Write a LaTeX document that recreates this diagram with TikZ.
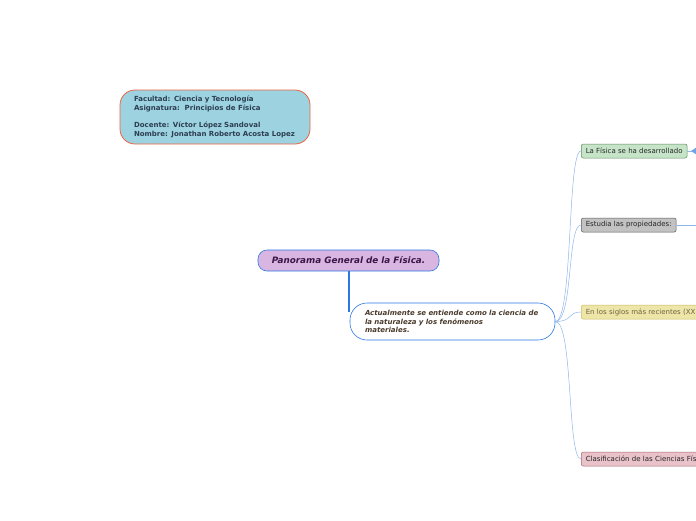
\documentclass[tikz,border=0pt]{standalone}
\usepackage{fontspec}
\setmainfont{DejaVu Sans}
\begin{document}
\begin{tikzpicture}[x=1pt, y=-1pt]
    \definecolor{infoFill}{HTML}{9DD3E1}
    \definecolor{infoBorder}{HTML}{EC6440}
    \definecolor{infoText}{HTML}{2C3E50}
    \definecolor{titleFill}{HTML}{D9B5E1}
    \definecolor{mainBlue}{HTML}{2B78E4}
    \definecolor{titleText}{HTML}{3A1648}
    \definecolor{subText}{HTML}{4A3B2C}
    \definecolor{branchLine}{HTML}{8FB6EA}
    \definecolor{greenFill}{HTML}{C6E5C8}
    \definecolor{greenBorder}{HTML}{5E8A60}
    \definecolor{grayFill}{HTML}{C2C2C2}
    \definecolor{grayBorder}{HTML}{5A5A5A}
    \definecolor{yellowFill}{HTML}{EEE6A8}
    \definecolor{yellowBorder}{HTML}{C9BA62}
    \definecolor{yellowText}{HTML}{6E6240}
    \definecolor{pinkFill}{HTML}{E9C2CA}
    \definecolor{pinkBorder}{HTML}{A8646F}

    \tikzset{
        branch/.style={draw, rounded corners=2pt, line width=0.5pt, anchor=west,
            minimum height=14pt, inner xsep=4.5pt, inner ysep=0pt,
            font=\fontsize{7}{8}\selectfont, text=black!85},
        link/.style={draw=branchLine, line width=0.5pt}
    }

    % Canvas
    \useasboundingbox (0,0) rectangle (696,520);
    \clip (0,0) rectangle (696,520);

    % Info box
    \node[draw=infoBorder, fill=infoFill, line width=0.8pt, rounded corners=15pt,
          minimum width=190pt, minimum height=54pt, text width=162pt, align=left,
          text=infoText, font=\fontsize{7}{8.6}\selectfont\bfseries]
        (info) at (215,117) {Facultad: Ciencia y Tecnología\\
        Asignatura:\ \ Principios de Física\\[8.6pt]
        Docente: Víctor López Sandoval\\
        Nombre: Jonathan Roberto Acosta Lopez};

    % Central topic
    \node[draw=mainBlue, fill=titleFill, line width=0.6pt, rounded corners=9pt,
          minimum width=181pt, minimum height=21pt, text=titleText,
          font=\fontsize{8.8}{10}\selectfont\bfseries\itshape]
        (title) at (348.5,260.5) {Panorama General de la Física.};

    % Definition node
    \node[draw=mainBlue, fill=white, line width=0.6pt, rounded corners=17pt,
          minimum width=205pt, minimum height=37pt, text width=175pt, align=left,
          text=subText, font=\fontsize{7}{8.6}\selectfont\bfseries\itshape]
        (def) at (452.5,321.5) {Actualmente se entiende como la ciencia de\\
        la naturaleza y los fenómenos\\ materiales.};

    \coordinate (join) at (349,312);
    \draw[draw=mainBlue, line width=1.1pt] (title.south -| join) -- (join);

    % Branches
    \node[branch, fill=greenFill, draw=greenBorder] (b1) at (581,151) {La Física se ha desarrollado};
    \node[branch, fill=grayFill, draw=grayBorder] (b2) at (581,225) {Estudia las propiedades:};
    \node[branch, fill=yellowFill, draw=yellowBorder, text=yellowText,
          text width=140pt, align=left] (b3) at (581,312) {En los siglos más recientes (XX};
    \node[branch, fill=pinkFill, draw=pinkBorder,
          text width=140pt, align=left] (b4) at (581,459) {Clasificación de las Ciencias Fís};

    \foreach \b in {b1,b2,b3,b4}
        \draw[link] (def.east) .. controls +(18,0) and +(-14,0) .. (\b.west);

    % Stubs to the right
    \coordinate (e1) at (700,151);
    \coordinate (e2) at (700,225);
    \draw[link] (b1.east) -- (e1);
    \draw[link] (b2.east) -- (e2);
    \fill[branchLine!70!mainBlue] (691,151) -- (697,147) -- (697,155) -- cycle;

\end{tikzpicture}
\end{document}
